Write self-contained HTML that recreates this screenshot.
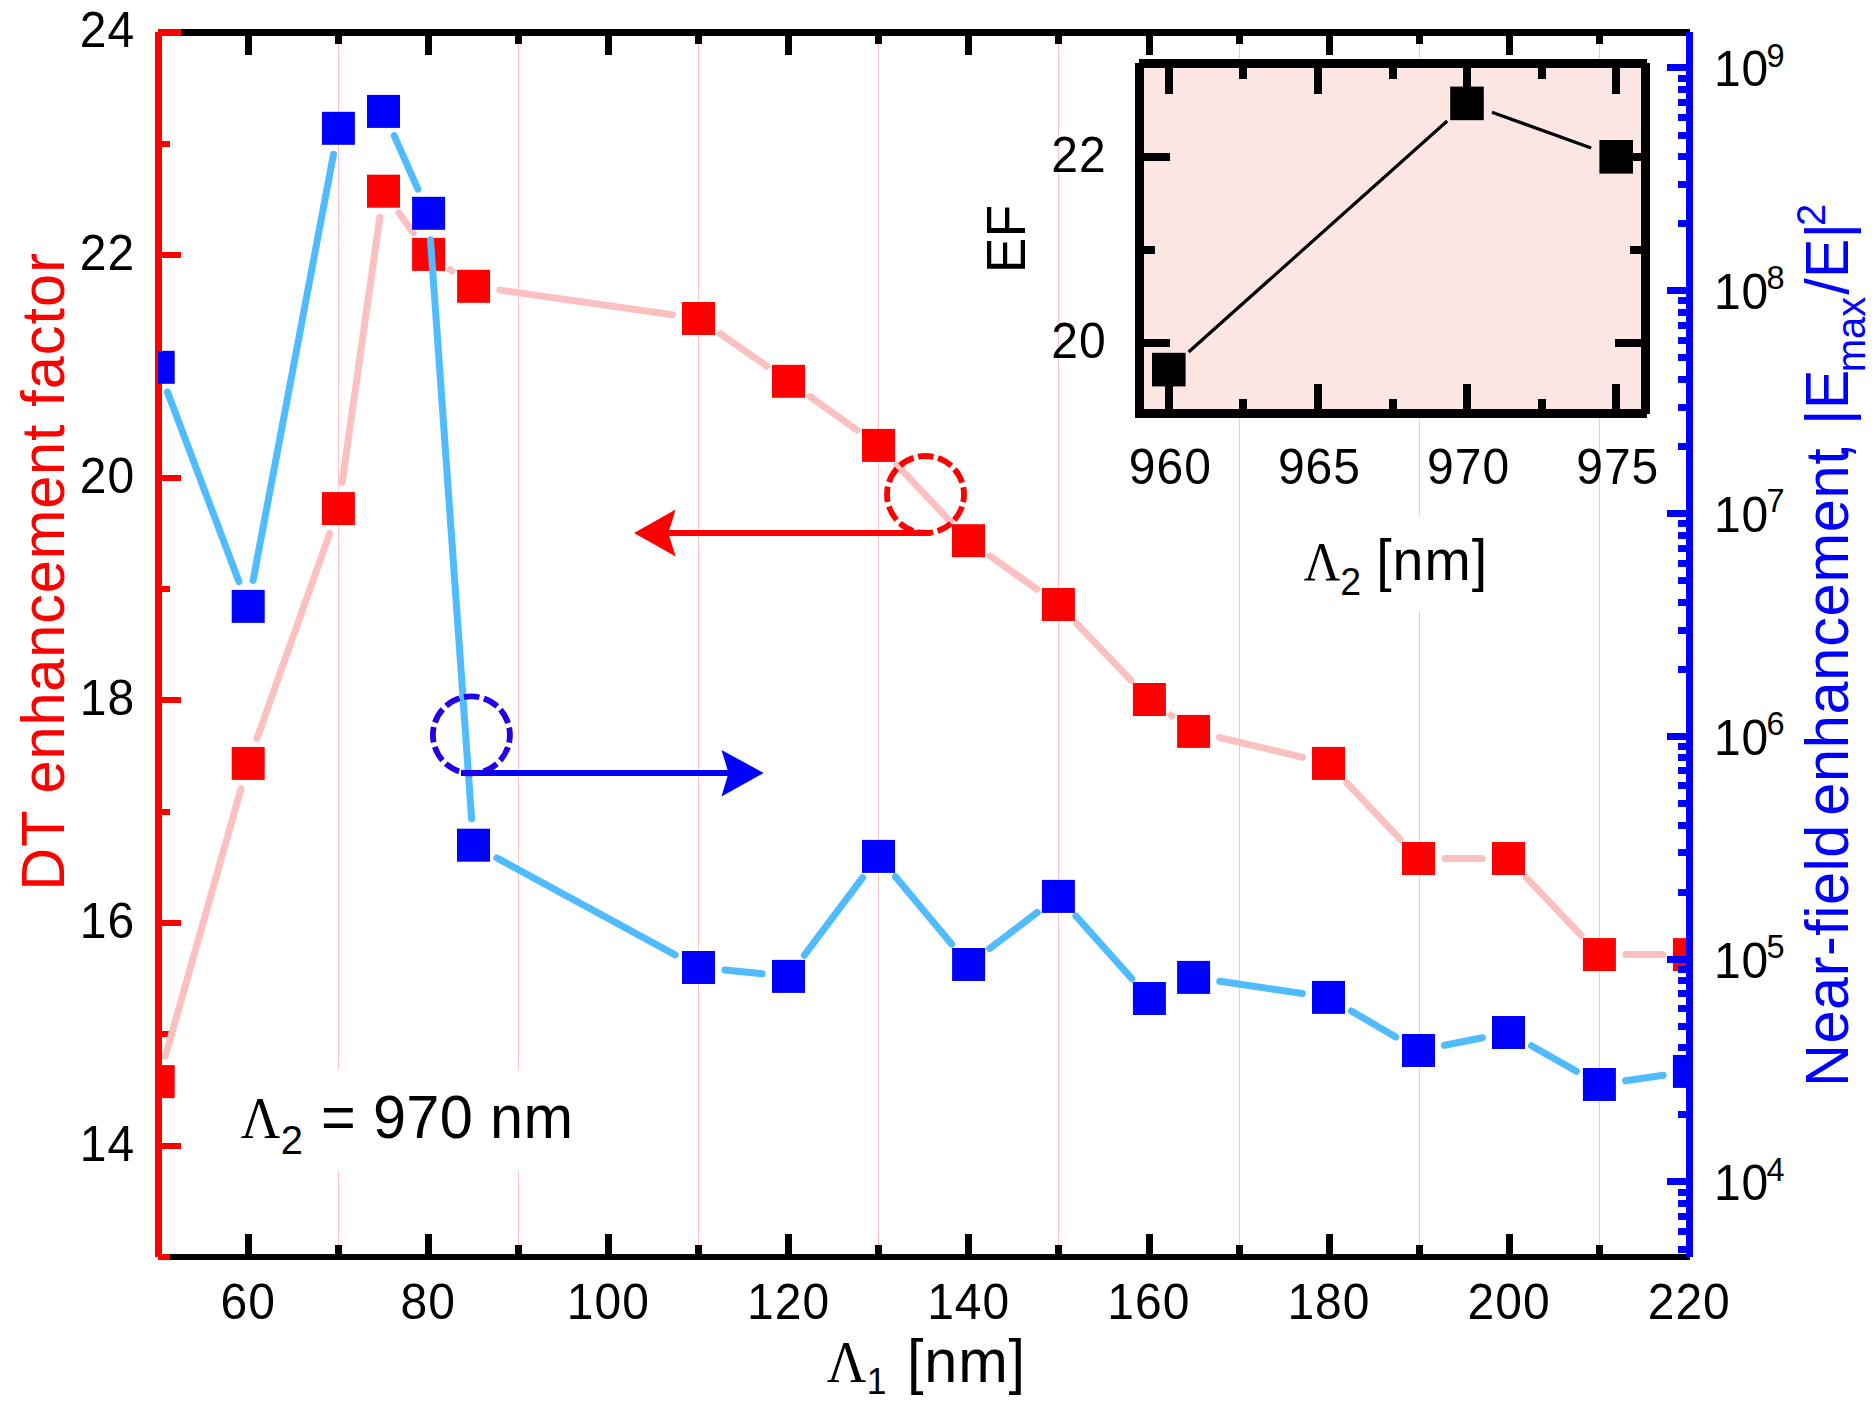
<!DOCTYPE html>
<html lang="en"><head><meta charset="utf-8">
<title>DT enhancement factor and near-field enhancement</title>
<style>html,body{margin:0;padding:0;background:#fff;overflow:hidden}svg{display:block}text{font-family:"Liberation Sans", sans-serif;}.ser{font-family:"Liberation Serif", serif;}</style></head><body>
<svg width="1875" height="1410" viewBox="0 0 1875 1410">
<rect width="1875" height="1410" fill="#fff"/>
<defs><clipPath id="plot"><rect x="158" y="20" width="1535" height="1250"/></clipPath></defs>
<g shape-rendering="crispEdges">
<rect x="338.00" y="36.00" width="1.00" height="1218.00" fill="#fcc3c2"/>
<rect x="518.00" y="36.00" width="1.00" height="1218.00" fill="#fcc3c2"/>
<rect x="698.00" y="36.00" width="1.00" height="1218.00" fill="#fcc3c2"/>
<rect x="878.00" y="36.00" width="1.00" height="1218.00" fill="#fcc3c2"/>
<rect x="1058.00" y="36.00" width="1.00" height="1218.00" fill="#fcc3c2"/>
<rect x="1239.00" y="36.00" width="1.00" height="1218.00" fill="#fcc3c2"/>
<rect x="1419.00" y="36.00" width="1.00" height="1218.00" fill="#fcc3c2"/>
<rect x="1599.00" y="36.00" width="1.00" height="1218.00" fill="#fcc3c2"/>
</g>
<g shape-rendering="crispEdges">
<rect x="155.00" y="32.00" width="7.00" height="1225.00" fill="#ff0000"/>
<rect x="158.00" y="1254.00" width="12.00" height="6.00" fill="#ff0000"/>
<rect x="158.00" y="1143.00" width="23.00" height="6.00" fill="#ff0000"/>
<rect x="158.00" y="1031.00" width="12.00" height="6.00" fill="#ff0000"/>
<rect x="158.00" y="920.00" width="23.00" height="6.00" fill="#ff0000"/>
<rect x="158.00" y="809.00" width="12.00" height="6.00" fill="#ff0000"/>
<rect x="158.00" y="697.00" width="23.00" height="6.00" fill="#ff0000"/>
<rect x="158.00" y="586.00" width="12.00" height="6.00" fill="#ff0000"/>
<rect x="158.00" y="475.00" width="23.00" height="6.00" fill="#ff0000"/>
<rect x="158.00" y="363.00" width="12.00" height="6.00" fill="#ff0000"/>
<rect x="158.00" y="252.00" width="23.00" height="6.00" fill="#ff0000"/>
<rect x="158.00" y="141.00" width="12.00" height="6.00" fill="#ff0000"/>
<rect x="158.00" y="29.00" width="23.00" height="7.00" fill="#ff0000"/>
</g>
<g shape-rendering="crispEdges" fill="#000">
<rect x="181" y="29" width="1509" height="7"/>
<rect x="170" y="1254" width="1520" height="6"/>
<rect x="245" y="35" width="7" height="20"/>
<rect x="245" y="1234" width="7" height="21"/>
<rect x="335" y="35" width="7" height="9"/>
<rect x="335" y="1245" width="7" height="10"/>
<rect x="425" y="35" width="7" height="20"/>
<rect x="425" y="1234" width="7" height="21"/>
<rect x="515" y="35" width="7" height="9"/>
<rect x="515" y="1245" width="7" height="10"/>
<rect x="605" y="35" width="7" height="20"/>
<rect x="605" y="1234" width="7" height="21"/>
<rect x="695" y="35" width="7" height="9"/>
<rect x="695" y="1245" width="7" height="10"/>
<rect x="785" y="35" width="7" height="20"/>
<rect x="785" y="1234" width="7" height="21"/>
<rect x="875" y="35" width="7" height="9"/>
<rect x="875" y="1245" width="7" height="10"/>
<rect x="965" y="35" width="7" height="20"/>
<rect x="965" y="1234" width="7" height="21"/>
<rect x="1055" y="35" width="7" height="9"/>
<rect x="1055" y="1245" width="7" height="10"/>
<rect x="1146" y="35" width="7" height="20"/>
<rect x="1146" y="1234" width="7" height="21"/>
<rect x="1236" y="35" width="7" height="9"/>
<rect x="1236" y="1245" width="7" height="10"/>
<rect x="1326" y="35" width="7" height="20"/>
<rect x="1326" y="1234" width="7" height="21"/>
<rect x="1416" y="35" width="7" height="9"/>
<rect x="1416" y="1245" width="7" height="10"/>
<rect x="1506" y="35" width="7" height="20"/>
<rect x="1506" y="1234" width="7" height="21"/>
<rect x="1596" y="35" width="7" height="9"/>
<rect x="1596" y="1245" width="7" height="10"/>
</g>
<g clip-path="url(#plot)">
<path d="M165.4 1056.1L241.0 788.9M257.0 738.4L329.6 533.6M342.1 482.4L379.8 217.4M398.9 212.8L413.2 232.8M450.2 269.7L452.0 271.0M499.8 290.1L672.3 314.7M720.2 333.7L766.8 366.1M810.1 396.7L856.9 430.0M896.7 464.7L950.3 521.4M990.1 556.0L1036.8 589.2M1076.7 623.6L1131.1 680.4M1170.9 715.0L1172.1 715.9M1219.4 737.5L1302.7 757.3M1346.7 782.6L1400.3 839.3M1445.0 858.5L1482.0 858.5M1526.7 877.8L1581.2 935.3M1625.9 954.6L1662.9 954.6" fill="none" stroke="#fbc0c0" stroke-width="7.0" stroke-linecap="round"/>
<g fill="#ff0000"><rect x="141.7" y="1065.1" width="33.0" height="33.0"/><rect x="231.7" y="746.9" width="33.0" height="33.0"/><rect x="321.9" y="492.1" width="33.0" height="33.0"/><rect x="367.0" y="174.7" width="33.0" height="33.0"/><rect x="412.1" y="237.9" width="33.0" height="33.0"/><rect x="457.1" y="269.8" width="33.0" height="33.0"/><rect x="682.0" y="302.0" width="33.0" height="33.0"/><rect x="772.0" y="364.8" width="33.0" height="33.0"/><rect x="862.0" y="428.9" width="33.0" height="33.0"/><rect x="952.0" y="524.2" width="33.0" height="33.0"/><rect x="1041.9" y="588.0" width="33.0" height="33.0"/><rect x="1132.9" y="683.0" width="33.0" height="33.0"/><rect x="1177.1" y="714.9" width="33.0" height="33.0"/><rect x="1312.0" y="746.9" width="33.0" height="33.0"/><rect x="1402.0" y="842.0" width="33.0" height="33.0"/><rect x="1492.0" y="842.0" width="33.0" height="33.0"/><rect x="1582.9" y="938.1" width="33.0" height="33.0"/><rect x="1672.9" y="938.1" width="33.0" height="33.0"/></g>
<path d="M167.5 392.1L238.9 581.6M253.1 580.4L333.5 154.3M394.2 135.6L417.9 189.1M430.5 239.7L471.6 818.8M496.8 857.9L675.2 954.8M724.9 970.1L762.1 973.8M804.4 955.2L862.6 877.6M895.5 876.8L951.6 944.1M989.7 948.5L1037.3 912.4M1076.0 916.2L1131.8 978.7M1219.8 981.3L1302.3 993.5M1351.3 1010.9L1395.7 1037.0M1444.5 1045.3L1482.5 1037.7M1531.5 1045.7L1576.4 1071.3M1625.6 1080.7L1663.2 1075.2" fill="none" stroke="#50bbff" stroke-width="7.0" stroke-linecap="round"/>
<g fill="#0000ff"><rect x="141.7" y="350.8" width="33.0" height="33.0"/><rect x="231.7" y="589.9" width="33.0" height="33.0"/><rect x="321.9" y="111.8" width="33.0" height="33.0"/><rect x="367.0" y="94.9" width="33.0" height="33.0"/><rect x="412.1" y="196.8" width="33.0" height="33.0"/><rect x="457.0" y="828.7" width="33.0" height="33.0"/><rect x="682.0" y="951.0" width="33.0" height="33.0"/><rect x="772.0" y="959.9" width="33.0" height="33.0"/><rect x="862.0" y="839.9" width="33.0" height="33.0"/><rect x="952.1" y="948.0" width="33.0" height="33.0"/><rect x="1041.9" y="879.9" width="33.0" height="33.0"/><rect x="1132.9" y="982.0" width="33.0" height="33.0"/><rect x="1177.1" y="960.9" width="33.0" height="33.0"/><rect x="1312.0" y="980.9" width="33.0" height="33.0"/><rect x="1402.0" y="1034.0" width="33.0" height="33.0"/><rect x="1492.0" y="1016.0" width="33.0" height="33.0"/><rect x="1582.9" y="1068.0" width="33.0" height="33.0"/><rect x="1672.9" y="1054.9" width="33.0" height="33.0"/></g>
</g>
<g shape-rendering="crispEdges">
<rect x="1686.00" y="32.00" width="7.00" height="1225.00" fill="#0000ff"/>
<rect x="1667.00" y="1178.00" width="20.00" height="7.00" fill="#0000ff"/>
<rect x="1667.00" y="956.00" width="20.00" height="7.00" fill="#0000ff"/>
<rect x="1667.00" y="733.00" width="20.00" height="7.00" fill="#0000ff"/>
<rect x="1667.00" y="510.00" width="20.00" height="7.00" fill="#0000ff"/>
<rect x="1667.00" y="287.00" width="20.00" height="7.00" fill="#0000ff"/>
<rect x="1667.00" y="64.00" width="20.00" height="7.00" fill="#0000ff"/>
<rect x="1678.00" y="1246.00" width="9.00" height="7.00" fill="#0000ff"/>
<rect x="1678.00" y="1228.00" width="9.00" height="7.00" fill="#0000ff"/>
<rect x="1678.00" y="1213.00" width="9.00" height="7.00" fill="#0000ff"/>
<rect x="1678.00" y="1200.00" width="9.00" height="7.00" fill="#0000ff"/>
<rect x="1678.00" y="1189.00" width="9.00" height="7.00" fill="#0000ff"/>
<rect x="1678.00" y="1111.00" width="9.00" height="7.00" fill="#0000ff"/>
<rect x="1678.00" y="1072.00" width="9.00" height="7.00" fill="#0000ff"/>
<rect x="1678.00" y="1044.00" width="9.00" height="7.00" fill="#0000ff"/>
<rect x="1678.00" y="1023.00" width="9.00" height="7.00" fill="#0000ff"/>
<rect x="1678.00" y="1005.00" width="9.00" height="7.00" fill="#0000ff"/>
<rect x="1678.00" y="990.00" width="9.00" height="7.00" fill="#0000ff"/>
<rect x="1678.00" y="977.00" width="9.00" height="7.00" fill="#0000ff"/>
<rect x="1678.00" y="966.00" width="9.00" height="7.00" fill="#0000ff"/>
<rect x="1678.00" y="889.00" width="9.00" height="7.00" fill="#0000ff"/>
<rect x="1678.00" y="849.00" width="9.00" height="7.00" fill="#0000ff"/>
<rect x="1678.00" y="822.00" width="9.00" height="7.00" fill="#0000ff"/>
<rect x="1678.00" y="800.00" width="9.00" height="7.00" fill="#0000ff"/>
<rect x="1678.00" y="782.00" width="9.00" height="7.00" fill="#0000ff"/>
<rect x="1678.00" y="767.00" width="9.00" height="7.00" fill="#0000ff"/>
<rect x="1678.00" y="754.00" width="9.00" height="7.00" fill="#0000ff"/>
<rect x="1678.00" y="743.00" width="9.00" height="7.00" fill="#0000ff"/>
<rect x="1678.00" y="666.00" width="9.00" height="7.00" fill="#0000ff"/>
<rect x="1678.00" y="627.00" width="9.00" height="7.00" fill="#0000ff"/>
<rect x="1678.00" y="599.00" width="9.00" height="7.00" fill="#0000ff"/>
<rect x="1678.00" y="577.00" width="9.00" height="7.00" fill="#0000ff"/>
<rect x="1678.00" y="560.00" width="9.00" height="7.00" fill="#0000ff"/>
<rect x="1678.00" y="545.00" width="9.00" height="7.00" fill="#0000ff"/>
<rect x="1678.00" y="532.00" width="9.00" height="7.00" fill="#0000ff"/>
<rect x="1678.00" y="520.00" width="9.00" height="7.00" fill="#0000ff"/>
<rect x="1678.00" y="443.00" width="9.00" height="7.00" fill="#0000ff"/>
<rect x="1678.00" y="404.00" width="9.00" height="7.00" fill="#0000ff"/>
<rect x="1678.00" y="376.00" width="9.00" height="7.00" fill="#0000ff"/>
<rect x="1678.00" y="354.00" width="9.00" height="7.00" fill="#0000ff"/>
<rect x="1678.00" y="337.00" width="9.00" height="7.00" fill="#0000ff"/>
<rect x="1678.00" y="322.00" width="9.00" height="7.00" fill="#0000ff"/>
<rect x="1678.00" y="309.00" width="9.00" height="7.00" fill="#0000ff"/>
<rect x="1678.00" y="297.00" width="9.00" height="7.00" fill="#0000ff"/>
<rect x="1678.00" y="220.00" width="9.00" height="7.00" fill="#0000ff"/>
<rect x="1678.00" y="181.00" width="9.00" height="7.00" fill="#0000ff"/>
<rect x="1678.00" y="153.00" width="9.00" height="7.00" fill="#0000ff"/>
<rect x="1678.00" y="132.00" width="9.00" height="7.00" fill="#0000ff"/>
<rect x="1678.00" y="114.00" width="9.00" height="7.00" fill="#0000ff"/>
<rect x="1678.00" y="99.00" width="9.00" height="7.00" fill="#0000ff"/>
<rect x="1678.00" y="86.00" width="9.00" height="7.00" fill="#0000ff"/>
<rect x="1678.00" y="75.00" width="9.00" height="7.00" fill="#0000ff"/>
</g>
<g shape-rendering="crispEdges">
<rect x="660.00" y="530.00" width="271.00" height="6.00" fill="#ff0000"/>
<rect x="461.00" y="770.00" width="274.00" height="6.00" fill="#0000ff"/>
</g>
<path d="M634 533L675.7 509.6L668.3 533L675.7 556.4Z" fill="#ff0000"/>
<path d="M763.7 773L721.5 749.9L728.5 773L721.5 796.5Z" fill="#0000ff"/>
<circle cx="925.5" cy="494.5" r="38.5" fill="none" stroke="#ff0000" stroke-width="5.8" stroke-dasharray="15.5 4.66" stroke-dashoffset="7.75"/>
<circle cx="471.4" cy="734.9" r="38.5" fill="none" stroke="#2200e6" stroke-width="5.8" stroke-dasharray="15.5 4.66" stroke-dashoffset="7.75"/>
<rect x="1139.5" y="63.7" width="506.1" height="349.6" fill="#fce6e4" stroke="#000" stroke-width="8.6" shape-rendering="crispEdges"/>
<g fill="#000" shape-rendering="crispEdges">
<rect x="1164.8" y="68.0" width="8" height="25.5"/>
<rect x="1164.8" y="383.5" width="8" height="25.5"/>
<rect x="1239.4" y="68.0" width="8" height="10.5"/>
<rect x="1239.4" y="398.5" width="8" height="10.5"/>
<rect x="1313.9" y="68.0" width="8" height="25.5"/>
<rect x="1313.9" y="383.5" width="8" height="25.5"/>
<rect x="1388.5" y="68.0" width="8" height="10.5"/>
<rect x="1388.5" y="398.5" width="8" height="10.5"/>
<rect x="1463.1" y="68.0" width="8" height="25.5"/>
<rect x="1463.1" y="383.5" width="8" height="25.5"/>
<rect x="1537.7" y="68.0" width="8" height="10.5"/>
<rect x="1537.7" y="398.5" width="8" height="10.5"/>
<rect x="1612.2" y="68.0" width="8" height="25.5"/>
<rect x="1612.2" y="383.5" width="8" height="25.5"/>
<rect x="1143.8" y="339.4" width="26" height="8"/>
<rect x="1615.3" y="339.4" width="26" height="8"/>
<rect x="1143.8" y="246.1" width="11.5" height="8"/>
<rect x="1629.8" y="246.1" width="11.5" height="8"/>
<rect x="1143.8" y="152.8" width="26" height="8"/>
<rect x="1615.3" y="152.8" width="26" height="8"/>
</g>
<rect x="1135.00" y="59.00" width="4.00" height="4.00" fill="#fff"/>
<rect x="1647.00" y="59.00" width="3.00" height="4.00" fill="#fff"/>
<rect x="1647.00" y="414.00" width="3.00" height="4.00" fill="#fff"/>
<path d="M1188.6 352.0L1447.2 121.0M1492.0 112.3L1591.2 147.9" fill="none" stroke="#000" stroke-width="3.2" stroke-linecap="butt"/>
<g fill="#000"><rect x="1152.0" y="352.8" width="33.6" height="33.6"/><rect x="1450.2" y="86.6" width="33.6" height="33.6"/><rect x="1599.4" y="140.0" width="33.6" height="33.6"/></g>
<rect x="228.00" y="1069.00" width="362.00" height="103.00" fill="#fff"/>
<rect x="1290.00" y="516.50" width="210.00" height="94.20" fill="#fff"/>
<text transform="translate(135.10 1160.65) scale(1 1.03)" font-size="48" fill="#000" text-anchor="end" letter-spacing="1.0">14</text>
<text transform="translate(135.10 937.97) scale(1 1.03)" font-size="48" fill="#000" text-anchor="end" letter-spacing="1.0">16</text>
<text transform="translate(135.10 715.29) scale(1 1.03)" font-size="48" fill="#000" text-anchor="end" letter-spacing="1.0">18</text>
<text transform="translate(135.10 492.61) scale(1 1.03)" font-size="48" fill="#000" text-anchor="end" letter-spacing="1.0">20</text>
<text transform="translate(135.10 269.93) scale(1 1.03)" font-size="48" fill="#000" text-anchor="end" letter-spacing="1.0">22</text>
<text transform="translate(135.10 47.25) scale(1 1.03)" font-size="48" fill="#000" text-anchor="end" letter-spacing="1.0">24</text>
<text transform="translate(248.13 1319.00) scale(1 1.03)" font-size="48" fill="#000" text-anchor="middle" letter-spacing="1.0">60</text>
<text transform="translate(428.27 1319.00) scale(1 1.03)" font-size="48" fill="#000" text-anchor="middle" letter-spacing="1.0">80</text>
<text transform="translate(608.41 1319.00) scale(1 1.03)" font-size="48" fill="#000" text-anchor="middle" letter-spacing="1.0">100</text>
<text transform="translate(788.55 1319.00) scale(1 1.03)" font-size="48" fill="#000" text-anchor="middle" letter-spacing="1.0">120</text>
<text transform="translate(968.69 1319.00) scale(1 1.03)" font-size="48" fill="#000" text-anchor="middle" letter-spacing="1.0">140</text>
<text transform="translate(1148.83 1319.00) scale(1 1.03)" font-size="48" fill="#000" text-anchor="middle" letter-spacing="1.0">160</text>
<text transform="translate(1328.97 1319.00) scale(1 1.03)" font-size="48" fill="#000" text-anchor="middle" letter-spacing="1.0">180</text>
<text transform="translate(1509.11 1319.00) scale(1 1.03)" font-size="48" fill="#000" text-anchor="middle" letter-spacing="1.0">200</text>
<text transform="translate(1689.25 1319.00) scale(1 1.03)" font-size="48" fill="#000" text-anchor="middle" letter-spacing="1.0">220</text>
<text transform="translate(1714.10 1200.30) scale(1 1.03)" font-size="48" fill="#000" letter-spacing="0.6">10<tspan font-size="32.5" dy="-19.22" dx="-2.2">4</tspan></text>
<text transform="translate(1714.10 977.50) scale(1 1.03)" font-size="48" fill="#000" letter-spacing="0.6">10<tspan font-size="32.5" dy="-19.22" dx="-2.2">5</tspan></text>
<text transform="translate(1714.10 754.70) scale(1 1.03)" font-size="48" fill="#000" letter-spacing="0.6">10<tspan font-size="32.5" dy="-19.22" dx="-2.2">6</tspan></text>
<text transform="translate(1714.10 531.90) scale(1 1.03)" font-size="48" fill="#000" letter-spacing="0.6">10<tspan font-size="32.5" dy="-19.22" dx="-2.2">7</tspan></text>
<text transform="translate(1714.10 309.10) scale(1 1.03)" font-size="48" fill="#000" letter-spacing="0.6">10<tspan font-size="32.5" dy="-19.22" dx="-2.2">8</tspan></text>
<text transform="translate(1714.10 86.30) scale(1 1.03)" font-size="48" fill="#000" letter-spacing="0.6">10<tspan font-size="32.5" dy="-19.22" dx="-2.2">9</tspan></text>
<text transform="translate(1170.30 483.80) scale(1 1.03)" font-size="48" fill="#000" text-anchor="middle" letter-spacing="1.0">960</text>
<text transform="translate(1319.45 483.80) scale(1 1.03)" font-size="48" fill="#000" text-anchor="middle" letter-spacing="1.0">965</text>
<text transform="translate(1468.60 483.80) scale(1 1.03)" font-size="48" fill="#000" text-anchor="middle" letter-spacing="1.0">970</text>
<text transform="translate(1617.75 483.80) scale(1 1.03)" font-size="48" fill="#000" text-anchor="middle" letter-spacing="1.0">975</text>
<text transform="translate(1106.60 358.10) scale(1 1.03)" font-size="48" fill="#000" text-anchor="end" letter-spacing="1.0">20</text>
<text transform="translate(1106.60 171.50) scale(1 1.03)" font-size="48" fill="#000" text-anchor="end" letter-spacing="1.0">22</text>
<text transform="translate(64.10 0) rotate(-90) scale(1 1.035)" font-size="59.5" fill="#ff0000"><tspan x="-890.70" y="0.00" letter-spacing="0.85">DT </tspan><tspan x="-793.50" y="0.00" letter-spacing="0.85">enhancement </tspan><tspan x="-406.80" y="0.00" letter-spacing="1.0">factor</tspan></text>
<text transform="translate(1848.20 0) rotate(-90) scale(1 1.035)" font-size="59.5" fill="#0000ff"><tspan x="-1087.00" y="0.00" letter-spacing="0.5">Near-field </tspan><tspan x="-815.80" y="0.00" letter-spacing="0.7">enhancement</tspan><tspan x="-459.30" y="0.00">, </tspan><tspan x="-425.10" y="0.00" letter-spacing="0.5">|E</tspan><tspan x="-372.30" y="16.04" font-size="40">max</tspan><tspan x="-294.70" y="0.00">/E|</tspan><tspan x="-226.00" y="-22.22" font-size="40">2</tspan></text>
<text class="ser" transform="translate(826.66 1381.90) scale(0.918 1.006)" font-size="59.5" fill="#000">Λ</text>
<text transform="translate(866.79 1393.60) scale(1 1.035)" font-size="35.5" fill="#000">1</text>
<text transform="translate(906.96 1381.90) scale(1 1.035)" font-size="59.5" fill="#000" letter-spacing="0.8">[nm]</text>
<text class="ser" transform="translate(240.76 1137.60) scale(0.918 1.006)" font-size="59.5" fill="#000">Λ</text>
<text transform="translate(280.79 1154.20) scale(1 1.035)" font-size="40" fill="#000">2</text>
<text transform="translate(320.90 1137.60) scale(1 1.035)" font-size="59.5" fill="#000" letter-spacing="0.35">= 970 nm</text>
<text transform="translate(1024.90 0) rotate(-90) scale(1 1.035)" font-size="53.5" fill="#000"><tspan x="-273.20" y="0.00">EF</tspan></text>
<text class="ser" transform="translate(1303.81 579.50) scale(0.918 1.006)" font-size="55" fill="#000">Λ</text>
<text transform="translate(1340.21 595.10) scale(1 1.035)" font-size="37.5" fill="#000">2</text>
<text transform="translate(1376.14 579.50) scale(1 1.035)" font-size="55.5" fill="#000" letter-spacing="1.0">[nm]</text>
</svg></body></html>
